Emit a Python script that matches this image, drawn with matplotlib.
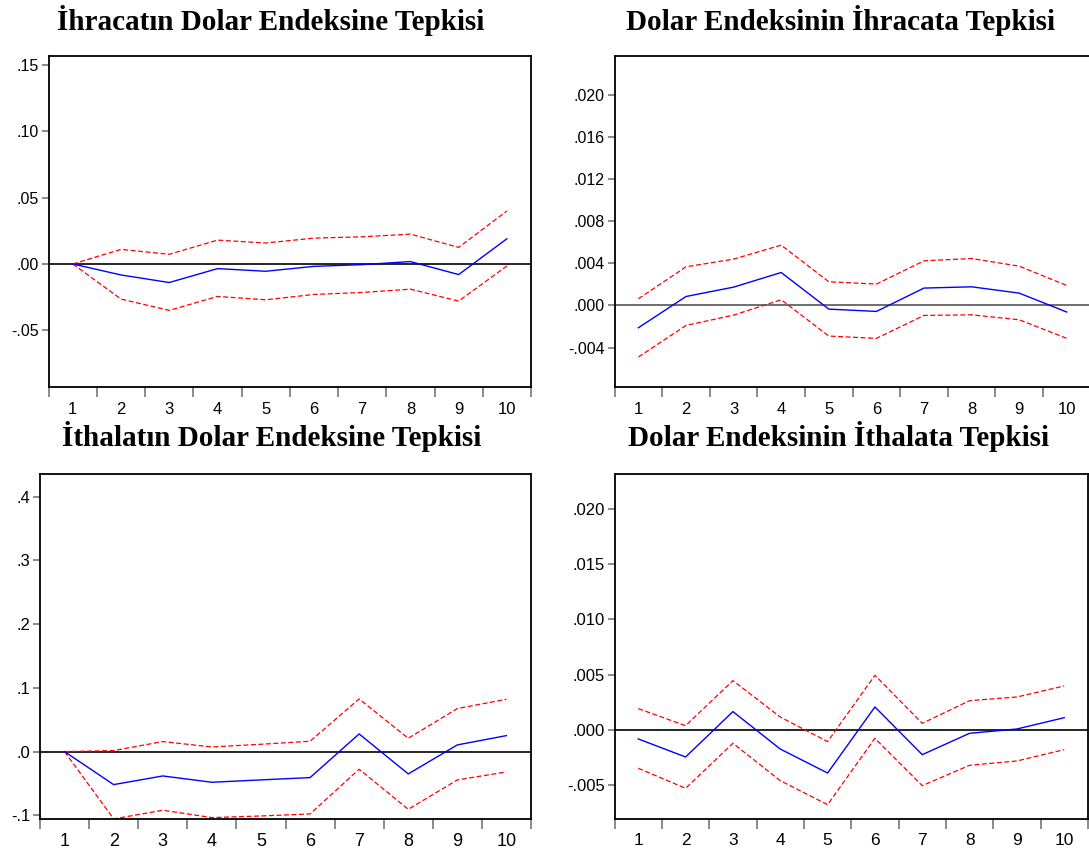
import matplotlib
matplotlib.use("Agg")
import matplotlib.pyplot as plt
from matplotlib.ticker import FixedLocator, FuncFormatter, NullFormatter

periods = [1, 2, 3, 4, 5, 6, 7, 8, 9, 10]
period_labels = ["1", "2", "3", "4", "5", "6", "7", "8", "9", "10"]

titles = [
    "İhracatın Dolar Endeksine Tepkisi",
    "Dolar Endeksinin İhracata Tepkisi",
    "İthalatın Dolar Endeksine Tepkisi",
    "Dolar Endeksinin İthalata Tepkisi",
]

# Panel 1: exports response to dollar index
resp1 = [0.0, -0.0083, -0.0140, -0.0035, -0.0055, -0.0018, -0.0005, 0.0018, -0.0080, 0.0190]
upper1 = [0.0, 0.0110, 0.0073, 0.0180, 0.0158, 0.0195, 0.0205, 0.0225, 0.0125, 0.0400]
lower1 = [0.0, -0.0265, -0.0350, -0.0245, -0.0270, -0.0230, -0.0215, -0.0190, -0.0280, -0.0015]

# Panel 2: dollar index response to exports
resp2 = [-0.00212, 0.00085, 0.00174, 0.00313, -0.00035, -0.00057, 0.00165, 0.00177, 0.00117, -0.00063]
upper2 = [0.00063, 0.00367, 0.00440, 0.00573, 0.00225, 0.00203, 0.00424, 0.00446, 0.00373, 0.00190]
lower2 = [-0.00490, -0.00190, -0.00092, 0.00054, -0.00291, -0.00313, -0.00095, -0.00089, -0.00136, -0.00313]

# Panel 3: imports response to dollar index
resp3 = [0.0, -0.0518, -0.0382, -0.0481, -0.0444, -0.0408, 0.0277, -0.0350, 0.0105, 0.0251]
upper3 = [0.0, 0.0016, 0.0157, 0.0073, 0.0115, 0.0162, 0.0826, 0.0209, 0.0675, 0.0821]
lower3 = [0.0, -0.1056, -0.0920, -0.1035, -0.1010, -0.0978, -0.0277, -0.0905, -0.0444, -0.0319]

# Panel 4: dollar index response to imports
resp4 = [-0.00081, -0.00244, 0.00166, -0.00172, -0.00389, 0.00208, -0.00223, -0.00030, 0.00009, 0.00111]
upper4 = [0.00193, 0.00039, 0.00446, 0.00117, -0.00105, 0.00494, 0.00060, 0.00265, 0.00298, 0.00398]
lower4 = [-0.00346, -0.00527, -0.00120, -0.00458, -0.00675, -0.00075, -0.00503, -0.00319, -0.00280, -0.00178]

yticks1 = [-0.05, 0.0, 0.05, 0.10, 0.15]
yticks2 = [-0.004, 0.0, 0.004, 0.008, 0.012, 0.016, 0.020]
yticks3 = [-0.1, 0.0, 0.1, 0.2, 0.3, 0.4]
yticks4 = [-0.005, 0.0, 0.005, 0.010, 0.015, 0.020]

W, H = 1089, 859
fig = plt.figure(figsize=(W / 100, H / 100), dpi=100)
fig.patch.set_facecolor("white")


def px_axes(left, top, right, bottom):
    return fig.add_axes([left / W, 1 - bottom / H, (right - left) / W, (bottom - top) / H])


def make_fmt(dec):
    def f(v, pos):
        v = round(v, dec)
        if v == 0:
            v = 0.0
        s = f"{v:.{dec}f}"
        s = s.replace("0.", ".", 1) if s.startswith("0.") else s.replace("-0.", "-.", 1)
        return s
    return FuncFormatter(f)


panels = [
    dict(box=(48.7, 55.7, 531, 387), resp=resp1, up=upper1, lo=lower1, yt=yticks1, dec=2,
         ylim=(-0.0928, 0.1571), zero="black", xfs=12, yfs=11.5, xpad=11),
    dict(box=(614.6, 55.7, 1090.6, 387), resp=resp2, up=upper2, lo=lower2, yt=yticks2, dec=3,
         ylim=(-0.00775, 0.02373), zero="#555555", xfs=12, yfs=11.5, xpad=11),
    dict(box=(40, 474.3, 531, 819.3), resp=resp3, up=upper3, lo=lower3, yt=yticks3, dec=1,
         ylim=(-0.1062, 0.435), zero="black", xfs=13, yfs=12, xpad=10),
    dict(box=(614.6, 474.3, 1087.9, 819.3), resp=resp4, up=upper4, lo=lower4, yt=yticks4, dec=3,
         ylim=(-0.00807, 0.0231), zero="black", xfs=12.5, yfs=12, xpad=10),
]

for p in panels:
    ax = px_axes(*p["box"])
    ax.set_xlim(0.5, 10.5)
    ax.set_ylim(*p["ylim"])
    ax.axhline(0, color=p["zero"], lw=1.2, zorder=1)
    ax.plot(periods, p["up"], color="#ff0000", lw=0.9, ls=(0, (4, 2)), zorder=2)
    ax.plot(periods, p["lo"], color="#ff0000", lw=0.9, ls=(0, (4, 2)), zorder=2)
    ax.plot(periods, p["resp"], color="#0000ff", lw=1.0, zorder=3)

    ax.xaxis.set_major_locator(FixedLocator([x + 0.5 for x in [0] + periods]))
    ax.xaxis.set_major_formatter(NullFormatter())
    ax.xaxis.set_minor_locator(FixedLocator(periods))
    ax.xaxis.set_minor_formatter(FuncFormatter(lambda v, pos: period_labels[int(round(v)) - 1]))
    ax.tick_params(axis="x", which="major", direction="out", length=7, width=1.2, color="#777777")
    ax.tick_params(axis="x", which="minor", length=0, pad=p["xpad"], labelsize=p["xfs"])

    ax.yaxis.set_major_locator(FixedLocator(p["yt"]))
    ax.yaxis.set_major_formatter(make_fmt(p["dec"]))
    ax.tick_params(axis="y", direction="out", length=5, width=1.2, color="#777777",
                   labelsize=p["yfs"], pad=2)
    for sp in ax.spines.values():
        sp.set_linewidth(1.3)
        sp.set_color("black")
    for lab in ax.get_xticklabels(minor=True) + ax.get_yticklabels():
        lab.set_fontfamily(["Liberation Sans", "DejaVu Sans"])

title_pos = [(271, 29.5), (840, 29.5), (272, 446.5), (839, 446.5)]
for t, (x, y) in zip(titles, title_pos):
    fig.text(x / W, 1 - y / H, t, ha="center", va="baseline", fontsize=21,
             fontweight="bold", family=["Liberation Serif", "DejaVu Serif"])

fig.savefig("out.png", dpi=100, facecolor="white")
